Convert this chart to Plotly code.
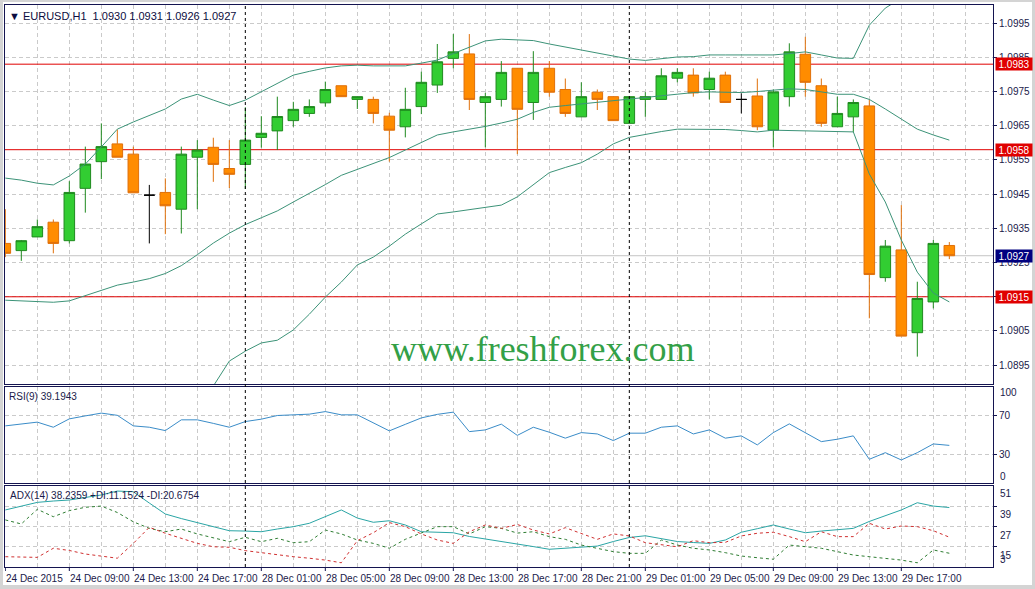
import plotly.graph_objects as go

# ---------------- data ----------------
bars = list(range(60))

opens = [1.09306, 1.09285, 1.09325, 1.09368, 1.09314, 1.09467, 1.09545, 1.09597, 1.09567, 1.09447,
         1.09455, 1.09406, 1.09558, 1.09587, 1.09525, 1.09537, 1.09616, 1.09635, 1.09665, 1.09686,
         1.09717, 1.09767, 1.09727, 1.09727, 1.09678, 1.09647, 1.09706, 1.09769, 1.09847, 1.09860,
         1.09718, 1.09727, 1.09818, 1.09718, 1.09818, 1.09756, 1.09676, 1.09748, 1.09735, 1.09657,
         1.09727, 1.09727, 1.09789, 1.09798, 1.09756, 1.09798, 1.09727, 1.09737, 1.09637, 1.09735,
         1.09859, 1.09767, 1.09647, 1.09676, 1.09708, 1.09206, 1.09287, 1.09045, 1.09135, 1.09300]

highs = [1.09406, 1.09316, 1.09376, 1.09376, 1.09488, 1.09589, 1.09657, 1.09639, 1.09589, 1.09477,
         1.09496, 1.09589, 1.09608, 1.09615, 1.09608, 1.09704, 1.09678, 1.09735, 1.09720, 1.09727,
         1.09779, 1.09767, 1.09735, 1.09735, 1.09688, 1.09761, 1.09808, 1.09889, 1.09918, 1.09918,
         1.09746, 1.09839, 1.09818, 1.09868, 1.09839, 1.09788, 1.09777, 1.09756, 1.09735, 1.09735,
         1.09748, 1.09818, 1.09818, 1.09818, 1.09808, 1.09808, 1.09745, 1.09788, 1.09756, 1.09891,
         1.09910, 1.09788, 1.09735, 1.09727, 1.09727, 1.09316, 1.09418, 1.09194, 1.09316, 1.09310]

lows = [1.09266, 1.09255, 1.09325, 1.09277, 1.09306, 1.09396, 1.09494, 1.09558, 1.09454, 1.09306,
        1.09333, 1.09335, 1.09406, 1.09486, 1.09468, 1.09465, 1.09586, 1.09579, 1.09647, 1.09676,
        1.09706, 1.09735, 1.09699, 1.09657, 1.09545, 1.09616, 1.09684, 1.09746, 1.09818, 1.09696,
        1.09587, 1.09706, 1.09567, 1.09667, 1.09735, 1.09676, 1.09676, 1.09696, 1.09665, 1.09657,
        1.09676, 1.09727, 1.09777, 1.09735, 1.09727, 1.09718, 1.09686, 1.09637, 1.09587, 1.09706,
        1.09735, 1.09647, 1.09647, 1.09632, 1.09087, 1.09194, 1.09035, 1.08975, 1.09116, 1.09260]

closes = [1.09277, 1.09314, 1.09355, 1.09306, 1.09455, 1.09538, 1.09589, 1.09558, 1.09454, 1.09447,
          1.09416, 1.09567, 1.09579, 1.09537, 1.09508, 1.09608, 1.09628, 1.09677, 1.09698, 1.09706,
          1.09756, 1.09735, 1.09735, 1.09686, 1.09637, 1.09698, 1.09777, 1.09837, 1.09866, 1.09727,
          1.09735, 1.09806, 1.09698, 1.09806, 1.09748, 1.09686, 1.09735, 1.09727, 1.09665, 1.09735,
          1.09735, 1.09796, 1.09806, 1.09746, 1.09789, 1.09718, 1.09727, 1.09647, 1.09749, 1.09866,
          1.09777, 1.09657, 1.09686, 1.09718, 1.09215, 1.09298, 1.09035, 1.09145, 1.09306, 1.09270]

bb_upper = [1.09497, 1.09491, 1.09482, 1.09477, 1.09503, 1.09538, 1.09588, 1.09640, 1.09661, 1.09680,
            1.09699, 1.09728, 1.09742, 1.09725, 1.09709, 1.09725, 1.09749, 1.09775, 1.09798, 1.09809,
            1.09819, 1.09825, 1.09827, 1.09825, 1.09825, 1.09825, 1.09833, 1.09842, 1.09861, 1.09880,
            1.09898, 1.09903, 1.09901, 1.09899, 1.09889, 1.09880, 1.09871, 1.09863, 1.09854, 1.09845,
            1.09841, 1.09845, 1.09851, 1.09852, 1.09857, 1.09857, 1.09857, 1.09857, 1.09857, 1.09861,
            1.09866, 1.09857, 1.09848, 1.09847, 1.09944, 1.09994, 1.10023, 1.10059, 1.10085, 1.10082]

bb_middle = [1.09140, 1.09138, 1.09136, 1.09134, 1.09138, 1.09153, 1.09168, 1.09184, 1.09193, 1.09203,
             1.09218, 1.09241, 1.09273, 1.09307, 1.09336, 1.09361, 1.09381, 1.09401, 1.09427, 1.09452,
             1.09478, 1.09505, 1.09522, 1.09540, 1.09557, 1.09579, 1.09601, 1.09623, 1.09632, 1.09639,
             1.09648, 1.09658, 1.09669, 1.09689, 1.09704, 1.09709, 1.09714, 1.09719, 1.09724, 1.09729,
             1.09734, 1.09739, 1.09744, 1.09747, 1.09749, 1.09748, 1.09747, 1.09750, 1.09754, 1.09758,
             1.09756, 1.09749, 1.09742, 1.09742, 1.09727, 1.09699, 1.09670, 1.09640, 1.09623, 1.09608]

bb_lower = [1.08784, 1.08787, 1.08790, 1.08792, 1.08775, 1.08769, 1.08751, 1.08728, 1.08725, 1.08725,
            1.08740, 1.08754, 1.08804, 1.08889, 1.08962, 1.08991, 1.09015, 1.09023, 1.09053, 1.09099,
            1.09149, 1.09193, 1.09243, 1.09266, 1.09298, 1.09333, 1.09363, 1.09392, 1.09398, 1.09405,
            1.09412, 1.09418, 1.09442, 1.09477, 1.09513, 1.09528, 1.09542, 1.09567, 1.09597, 1.09616,
            1.09625, 1.09633, 1.09640, 1.09640, 1.09640, 1.09639, 1.09636, 1.09632, 1.09637, 1.09636,
            1.09634, 1.09632, 1.09632, 1.09632, 1.09509, 1.09427, 1.09316, 1.09222, 1.09161, 1.09135]

rsi = [59.5, 61.6, 63.4, 58.1, 66.8, 69.9, 72.8, 70.5, 59.5, 58.1,
       54.6, 65.8, 65.8, 62.1, 58.1, 64.0, 66.5, 70.3, 71.0, 71.7,
       74.4, 71.0, 71.0, 62.6, 54.3, 61.1, 67.8, 71.5, 73.8, 53.5,
       55.3, 61.3, 49.6, 58.1, 52.9, 46.7, 52.5, 51.1, 44.2, 51.9,
       51.9, 58.1, 59.5, 51.1, 55.3, 46.7, 49.1, 39.7, 52.5, 61.6,
       52.5, 43.1, 45.6, 49.1, 24.7, 31.6, 24.0, 31.6, 40.7, 39.19]

adx = [36.8, 39.1, 41.3, 42.1, 42.7, 44.2, 45.7, 48.0, 47.6, 40.9,
       34.4, 31.7, 29.4, 27.0, 24.5, 24.3, 23.9, 25.5, 26.9, 28.9,
       32.9, 36.8, 32.0, 29.5, 30.4, 27.9, 23.9, 23.6, 23.3, 21.1,
       19.6, 18.1, 17.0, 15.1, 13.5, 14.1, 15.0, 15.4, 18.1, 20.5,
       21.5, 19.6, 18.1, 17.5, 17.0, 19.0, 23.6, 25.7, 27.9, 25.5,
       23.3, 24.3, 24.9, 25.9, 30.0, 33.2, 36.8, 41.1, 39.1, 38.24]

di_plus = [30.9, 28.5, 37.2, 32.8, 36.4, 38.4, 39.1, 35.3, 29.8, 25.9,
           23.9, 25.5, 22.6, 20.2, 18.0, 20.6, 18.0, 20.0, 17.4, 18.0,
           24.9, 22.6, 19.0, 17.0, 14.1, 19.4, 23.3, 26.9, 26.9, 22.6,
           26.9, 25.9, 23.1, 23.9, 21.0, 19.4, 16.0, 14.1, 12.1, 11.1,
           11.1, 19.0, 16.0, 14.1, 13.1, 11.5, 9.5, 8.5, 7.6, 16.0,
           15.0, 14.1, 12.1, 10.1, 9.1, 8.2, 7.1, 5.5, 13.1, 11.15]

di_minus = [9.1, 8.9, 8.7, 14.1, 12.8, 10.7, 9.5, 8.2, 17.0, 26.5,
            23.0, 20.0, 17.0, 15.0, 14.7, 12.7, 11.5, 10.1, 9.1, 8.2,
            7.1, 5.5, 18.6, 23.3, 29.3, 26.9, 22.6, 19.0, 17.0, 23.9,
            27.9, 25.9, 28.2, 24.9, 22.6, 26.3, 23.0, 19.4, 22.6, 21.4,
            17.4, 16.0, 15.0, 18.6, 17.4, 17.6, 21.4, 23.0, 23.6, 21.0,
            18.0, 23.9, 21.0, 21.0, 28.9, 25.5, 27.3, 26.9, 24.5, 20.68]

time_label_bars = [0, 4, 8, 12, 16, 20, 24, 28, 32, 36, 40, 44, 48, 52, 56]
time_labels = ["24 Dec 2015", "24 Dec 09:00", "24 Dec 13:00", "24 Dec 17:00", "28 Dec 01:00",
               "28 Dec 05:00", "28 Dec 09:00", "28 Dec 13:00", "28 Dec 17:00", "28 Dec 21:00",
               "29 Dec 01:00", "29 Dec 05:00", "29 Dec 09:00", "29 Dec 13:00", "29 Dec 17:00"]
price_ticks = [1.0895, 1.0905, 1.0915, 1.0925, 1.0935, 1.0945, 1.0955, 1.0965, 1.0975, 1.0985, 1.0995]
level_lines = [1.0983, 1.0958, 1.0915]
last_price = 1.0927
day_separators = [15, 39]
rsi_levels = [30, 70]
adx_grid = [15, 27, 39]
adx_scale_labels = [51, 39, 27, 15, 3]

title_text = "▼ EURUSD,H1  1.0930 1.0931 1.0926 1.0927"
rsi_text = "RSI(9) 39.1943"
adx_text = "ADX(14) 38.2359 +DI:11.1524 -DI:20.6754"
watermark = "www.freshforex.com"

# ---------------- styling ----------------
W, H = 1035, 589
ML, MR, MT, MB = 5, 42, 5, 22
PW = W - ML - MR
PH = H - MT - MB


def dom(top_px, bot_px):
    return [(H - MB - bot_px) / PH, (H - MB - top_px) / PH]


def px_x(px):
    return (px - ML) / PW


def px_y(py):
    return (H - MB - py) / PH


FONT = "Liberation Sans, Arial, sans-serif"
GRID = "#cacaca"
GRID_DASH = "4px,3px"
FRAME = "#141450"
TXT = "#1a1a4a"
GREEN_FILL, GREEN_LINE = "#32cd32", "#1f8a1f"
ORANGE_FILL, ORANGE_LINE = "#ff8c00", "#e0700a"
BB_COLOR = "#3c9378"
RED = "#e00000"
WIN_GRAY = "#d4d4d4"

fig = go.Figure()

for band in (bb_upper, bb_middle, bb_lower):
    fig.add_trace(go.Scatter(x=bars, y=band, mode="lines", line=dict(color=BB_COLOR, width=1),
                             xaxis="x", yaxis="y", showlegend=False, hoverinfo="skip"))

norm = [i for i in bars if opens[i] != closes[i]]
doji = [i for i in bars if opens[i] == closes[i]]

fig.add_trace(go.Candlestick(
    x=[bars[i] for i in norm], open=[opens[i] for i in norm], high=[highs[i] for i in norm],
    low=[lows[i] for i in norm], close=[closes[i] for i in norm],
    increasing=dict(line=dict(color=GREEN_LINE, width=1), fillcolor=GREEN_FILL),
    decreasing=dict(line=dict(color=ORANGE_LINE, width=1), fillcolor=ORANGE_FILL),
    whiskerwidth=0, xaxis="x", yaxis="y", showlegend=False))
fig.add_trace(go.Candlestick(
    x=[bars[i] for i in doji], open=[opens[i] for i in doji], high=[highs[i] for i in doji],
    low=[lows[i] for i in doji], close=[closes[i] for i in doji],
    increasing=dict(line=dict(color="black", width=1), fillcolor="black"),
    decreasing=dict(line=dict(color="black", width=1), fillcolor="black"),
    whiskerwidth=0, xaxis="x", yaxis="y", showlegend=False))

fig.add_trace(go.Scatter(x=bars, y=rsi, mode="lines", line=dict(color="#3a8cc8", width=1),
                         xaxis="x2", yaxis="y2", showlegend=False, hoverinfo="skip"))
fig.add_trace(go.Scatter(x=bars, y=adx, mode="lines", line=dict(color="#2aa5a5", width=1),
                         xaxis="x3", yaxis="y3", showlegend=False, hoverinfo="skip"))
fig.add_trace(go.Scatter(x=bars, y=di_plus, mode="lines",
                         line=dict(color="#2e7d32", width=1, dash="3px,3px"),
                         xaxis="x3", yaxis="y3", showlegend=False, hoverinfo="skip"))
fig.add_trace(go.Scatter(x=bars, y=di_minus, mode="lines",
                         line=dict(color="#d03030", width=1, dash="3px,3px"),
                         xaxis="x3", yaxis="y3", showlegend=False, hoverinfo="skip"))

xr = [-0.02, 61.73]
shapes = []
for lv in level_lines:
    shapes.append(dict(type="line", xref="x", yref="y", x0=xr[0], x1=xr[1], y0=lv, y1=lv,
                       line=dict(color=RED, width=1), layer="between"))
shapes.append(dict(type="line", xref="x", yref="y", x0=xr[0], x1=xr[1], y0=last_price, y1=last_price,
                   line=dict(color="#c4c4c4", width=1), layer="between"))
for d in day_separators:
    shapes.append(dict(type="line", xref="x", yref="paper", x0=d, x1=d, y0=0, y1=1,
                       line=dict(color="black", width=1, dash="3px,3px"), layer="above"))
for b in time_label_bars:
    shapes.append(dict(type="line", xref="x", yref="paper", x0=b, x1=b, y0=0, y1=-4 / PH,
                       line=dict(color=FRAME, width=1), layer="above"))
# window frame strips (terminal chrome)
shapes.append(dict(type="rect", xref="paper", yref="paper", x0=px_x(0), x1=px_x(3), y0=px_y(H), y1=px_y(0),
                   fillcolor=WIN_GRAY, line=dict(width=0), layer="above"))
shapes.append(dict(type="rect", xref="paper", yref="paper", x0=px_x(0), x1=px_x(W), y0=px_y(H), y1=px_y(585),
                   fillcolor=WIN_GRAY, line=dict(width=0), layer="above"))
shapes.append(dict(type="rect", xref="paper", yref="paper", x0=px_x(0), x1=px_x(W), y0=px_y(2), y1=px_y(0),
                   fillcolor=WIN_GRAY, line=dict(width=0), layer="above"))
shapes.append(dict(type="rect", xref="paper", yref="paper", x0=px_x(1032), x1=px_x(W), y0=px_y(H), y1=px_y(0),
                   fillcolor=WIN_GRAY, line=dict(width=0), layer="above"))

grid_ticks = list(range(2, 62, 2))
common_x = dict(range=xr, showline=True, mirror=True, linecolor=FRAME, linewidth=1,
                zeroline=False, showgrid=True, gridcolor=GRID, griddash=GRID_DASH, gridwidth=1,
                fixedrange=True, tickmode="array", tickvals=grid_ticks, showticklabels=False, ticks="")
common_y = dict(showline=True, mirror=True, linecolor=FRAME, linewidth=1, zeroline=False,
                showgrid=True, gridcolor=GRID, griddash=GRID_DASH, gridwidth=1, side="right",
                ticks="outside", ticklen=3, tickcolor=FRAME, fixedrange=True, tickmode="array",
                tickfont=dict(family=FONT, size=10, color=TXT))

layout = dict(
    width=W, height=H, margin=dict(l=ML, r=MR, t=MT, b=MB),
    paper_bgcolor="white", plot_bgcolor="white", showlegend=False,
    boxgap=0.34, boxgroupgap=0, boxmode="overlay",
    font=dict(family=FONT, size=10, color=TXT),
    xaxis=dict(**common_x, anchor="y", rangeslider=dict(visible=False)),
    xaxis2=dict(**common_x, anchor="y2", matches="x"),
    xaxis3=dict(**common_x, anchor="y3", matches="x"),
    yaxis=dict(**common_y, domain=dom(5, 384), anchor="x", range=[1.08895, 1.10003],
               tickvals=price_ticks, ticktext=[f"{v:.4f}" for v in price_ticks]),
    yaxis2=dict(**common_y, domain=dom(387, 483), anchor="x2", range=[0, 100],
                tickvals=rsi_levels, ticktext=[str(v) for v in rsi_levels]),
    yaxis3=dict(**common_y, domain=dom(486, 567), anchor="x3", range=[3, 51],
                tickvals=adx_grid, showticklabels=False),
    shapes=shapes,
)
fig.update_layout(**layout)

ann = []
ann.append(dict(text=title_text, xref="paper", yref="paper", x=0, y=1, xanchor="left", yanchor="top",
                xshift=2, yshift=-3, showarrow=False, font=dict(family=FONT, size=11, color="#0c0c40")))
ann.append(dict(text=rsi_text, xref="paper", yref="y2", x=0, y=100, xanchor="left", yanchor="top",
                xshift=2, yshift=-2, showarrow=False, font=dict(family=FONT, size=10, color=TXT)))
ann.append(dict(text=adx_text, xref="paper", yref="y3", x=0, y=51, xanchor="left", yanchor="top",
                xshift=3, yshift=-2, showarrow=False, font=dict(family=FONT, size=10, color=TXT)))
ann.append(dict(text=watermark, xref="x", yref="y", x=33.6, y=1.08997, xanchor="center", yanchor="middle",
                showarrow=False, font=dict(family="Liberation Serif, Times New Roman, serif", size=36,
                                           color="#33a047")))
for lv in level_lines:
    ann.append(dict(text=f"{lv:.4f}", xref="paper", yref="y", x=1, y=lv, xanchor="left", yanchor="middle",
                    xshift=2, showarrow=False, bgcolor=RED, width=34, height=10, borderpad=1,
                    font=dict(family=FONT, size=10, color="white")))
ann.append(dict(text=f"{last_price:.4f}", xref="paper", yref="y", x=1, y=last_price, xanchor="left",
                yanchor="middle", xshift=2, showarrow=False, bgcolor="#000080", width=34, height=10,
                borderpad=1, font=dict(family=FONT, size=10, color="white")))
ann.append(dict(text="100", xref="paper", yref="y2", x=1, y=100, xanchor="left", yanchor="middle",
                xshift=5, yshift=-6, showarrow=False, font=dict(family=FONT, size=10, color=TXT)))
ann.append(dict(text="0", xref="paper", yref="y2", x=1, y=0, xanchor="left", yanchor="middle",
                xshift=5, yshift=6, showarrow=False, font=dict(family=FONT, size=10, color=TXT)))
adx_shifts = [-7, -8.5, -8.5, -8.5, 7.5]
for v, s in zip(adx_scale_labels, adx_shifts):
    ann.append(dict(text=str(v), xref="paper", yref="y3", x=1, y=v, xanchor="left", yanchor="middle",
                    xshift=5, yshift=s, showarrow=False, font=dict(family=FONT, size=10, color=TXT)))
for b, t in zip(time_label_bars, time_labels):
    ann.append(dict(text=t, xref="x3", yref="y3", x=b, y=3, xanchor="left", yanchor="middle",
                    xshift=-1, yshift=-11, showarrow=False, font=dict(family=FONT, size=10, color=TXT)))
fig.update_layout(annotations=ann)

fig.write_html("out.html", config={"displayModeBar": False, "staticPlot": True},
               post_script="document.body.style.margin='0';document.body.style.overflow='hidden';")
